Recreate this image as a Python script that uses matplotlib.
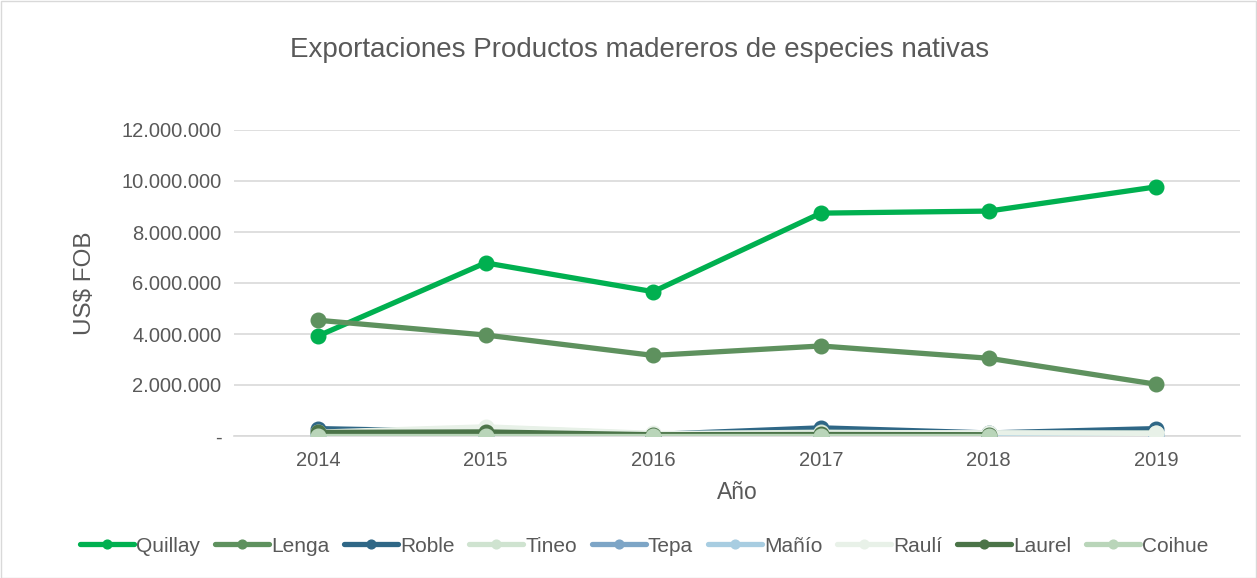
import matplotlib
matplotlib.use("Agg")
import matplotlib.pyplot as plt
from matplotlib.ticker import FuncFormatter

years = ["2014", "2015", "2016", "2017", "2018", "2019"]
quillay = [3920000, 6790000, 5660000, 8740000, 8820000, 9770000]
lenga = [4540000, 3960000, 3160000, 3530000, 3050000, 2030000]
roble = [290000, 160000, 60000, 320000, 120000, 290000]
tineo = [120000, 330000, 80000, 150000, 110000, 120000]
tepa = [60000, 50000, 40000, 60000, 40000, 20000]
manio = [20000, 20000, 20000, 20000, 30000, 10000]
rauli = [150000, 360000, 100000, 120000, 130000, 100000]
laurel = [140000, 160000, 50000, 60000, 50000, None]
coihue = [10000, 10000, 10000, 10000, 10000, None]

series = [
    ("Quillay", quillay, "#00B050"),
    ("Lenga", lenga, "#5E915E"),
    ("Roble", roble, "#2F6786"),
    ("Tineo", tineo, "#CFE3D0"),
    ("Tepa", tepa, "#7DA5C6"),
    ("Mañío", manio, "#A8CDE1"),
    ("Raulí", rauli, "#E8F1E8"),
    ("Laurel", laurel, "#4B7448"),
    ("Coihue", coihue, "#B9D5B9"),
]

plt.rcParams['font.family'] = ['Liberation Sans', 'DejaVu Sans']

fig = plt.figure(figsize=(12.57, 5.78), dpi=100)
ax = fig.add_axes([234/1257, (578-436)/578, (1240-234)/1257, (436-130)/578])

x = list(range(len(years)))
for i, (name, vals, col) in enumerate(series):
    xs = [xi for xi, v in zip(x, vals) if v is not None]
    vs = [v for v in vals if v is not None]
    ax.plot(xs, vs, color=col, lw=3.8, marker='o', markersize=10.5,
            label=name, zorder=3 + i, solid_capstyle='round')

ax.set_xlim(-0.5, 5.5)
ax.set_ylim(0, 12000000)
ax.set_yticks(range(0, 12000001, 2000000))
ax.yaxis.set_major_formatter(FuncFormatter(
    lambda v, p: '-' if v == 0 else f"{int(v):,}".replace(',', '.')))
ax.set_xticks(x)
ax.set_xticklabels(years)
ax.grid(axis='y', color='#D9D9D9', lw=1.2, zorder=0)
for s in ['top', 'right', 'left']:
    ax.spines[s].set_visible(False)
ax.spines['bottom'].set_color('#D9D9D9')
ax.spines['bottom'].set_linewidth(1.2)
ax.tick_params(axis='both', length=0, labelsize=14.5, colors='#595959')
ax.tick_params(axis='x', pad=11)
ax.tick_params(axis='y', pad=9)

ax.set_ylabel('US$ FOB', fontsize=17.5, color='#595959', labelpad=18)
ax.set_xlabel('Año', fontsize=16.5, color='#595959', labelpad=8)
fig.text(640/1257, 1 - 50/578, 'Exportaciones Productos madereros de especies nativas',
         ha='center', va='center', fontsize=20, color='#595959')

leg = fig.legend(loc='center', bbox_to_anchor=(644/1257, 1 - 546/578), ncol=9,
                 frameon=False, fontsize=15, handlelength=2.6, handletextpad=0.1,
                 columnspacing=0.7, markerscale=0.6, labelcolor='#595959')

fig.patches.append(plt.Rectangle((0.5/1257, 0.5/578), 1 - 1.5/1257, 1 - 1.5/578,
                                 transform=fig.transFigure, fill=False,
                                 edgecolor='#D9D9D9', lw=1))
fig.savefig('out.png', dpi=100)
